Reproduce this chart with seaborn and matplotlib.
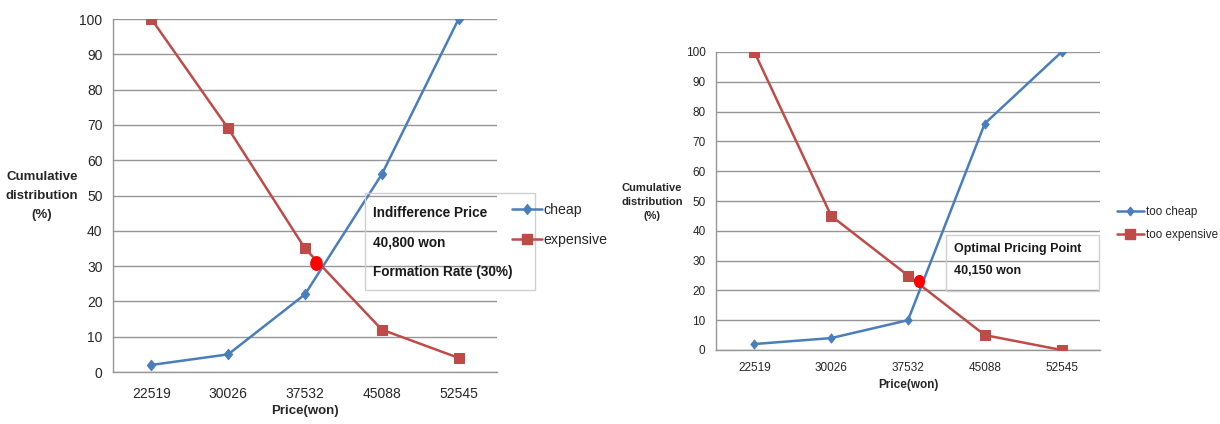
import matplotlib
matplotlib.use("Agg")
import matplotlib.pyplot as plt
import seaborn as sns
import pandas as pd
import numpy as np
from matplotlib.lines import Line2D
from matplotlib.path import Path
from matplotlib.transforms import Affine2D

# ---- data ----
prices = ["22519", "30026", "37532", "45088", "52545"]
left_cheap = [2, 5, 22, 56, 100]
left_expensive = [100, 69, 35, 12, 4]
left_point_x = [2.14]
left_point_y = [31]
right_too_cheap = [2, 4, 10, 76, 100]
right_too_expensive = [100, 45, 25, 5, 0]
right_point_x = [2.14]
right_point_y = [23]
y_ticks = [0, 10, 20, 30, 40, 50, 60, 70, 80, 90, 100]

sns.set_theme(style="white")
FAM = ["Liberation Sans", "DejaVu Sans"]
plt.rcParams["font.family"] = FAM

BLUE = "#4a7ebb"
RED = "#be4b48"
GRID = "#969696"
TXT = "#262626"

W, H = 1220, 424
fig = plt.figure(figsize=(W / 100, H / 100), dpi=100)

ELLIPSE = Path.unit_circle().transformed(Affine2D().scale(0.85, 1.0))
DIAMOND = Path.unit_regular_polygon(4).transformed(Affine2D().scale(0.8, 1.0))


def fx(px):
    return px / W


def fy(py):
    return 1 - py / H


def draw(ax, s1, s2, names, px, py, fs_tick, fs_lab, ms, dot_s, xpad, lpad):
    idx = np.arange(len(prices))
    df = pd.DataFrame({"x": np.concatenate([idx, idx]),
                       "y": s1 + s2,
                       "series": [names[0]] * len(s1) + [names[1]] * len(s2)})
    sns.lineplot(data=df[df.series == names[0]], x="x", y="y", ax=ax, color=BLUE,
                 marker=DIAMOND, markersize=ms * 1.0, markeredgecolor=BLUE,
                 linewidth=1.8, legend=False, zorder=3)
    sns.lineplot(data=df[df.series == names[1]], x="x", y="y", ax=ax, color=RED,
                 marker="s", markersize=ms, markeredgecolor=RED,
                 linewidth=1.8, legend=False, zorder=3)
    sns.scatterplot(x=px, y=py, ax=ax, color="#ff0000", s=dot_s, marker=ELLIPSE,
                    edgecolor="#ff0000", linewidth=0, zorder=4, legend=False)
    ax.set_xlim(-0.5, 4.5)
    ax.set_ylim(0, 100)
    ax.set_yticks(y_ticks)
    ax.set_yticklabels([str(v) for v in y_ticks], fontsize=fs_tick, color=TXT)
    ax.set_xticks(idx)
    ax.set_xticklabels(prices, fontsize=fs_tick, color=TXT)
    ax.set_xticks(np.arange(-0.5, 5, 1), minor=True)
    ax.tick_params(axis="x", which="major", length=0, pad=xpad)
    ax.tick_params(axis="x", which="minor", length=4, color=GRID, width=1, direction="out")
    ax.tick_params(axis="y", which="major", length=3.5, color=GRID, width=1,
                   direction="out", pad=4)
    ax.yaxis.grid(True, color=GRID, linewidth=1)
    ax.set_axisbelow(True)
    for sp in ["top", "right"]:
        ax.spines[sp].set_visible(False)
    for sp in ["left", "bottom"]:
        ax.spines[sp].set_color(GRID)
        ax.spines[sp].set_linewidth(1)
    ax.set_ylabel("")
    ax.set_xlabel("Price(won)", fontsize=fs_lab, fontweight="bold", labelpad=lpad, color=TXT)
    ax.set_facecolor("white")


# ---------------- Left chart ----------------
axL = fig.add_axes([fx(113), fy(372), fx(497 - 113), (372 - 19) / H])
draw(axL, left_cheap, left_expensive, ["cheap", "expensive"], left_point_x, left_point_y,
     fs_tick=10, fs_lab=9.5, ms=7.5, dot_s=115, xpad=11, lpad=3)
fig.text(fx(42), fy(196), "Cumulative\ndistribution\n(%)", ha="center", va="center",
         fontsize=9.5, fontweight="bold", linespacing=1.75, color=TXT)
boxL = plt.Rectangle((fx(365), fy(290)), fx(535 - 365), (290 - 193) / H,
                     transform=fig.transFigure, fill=False, edgecolor="#cfcfcf",
                     linewidth=1, zorder=5)
fig.add_artist(boxL)
for txt, yy in [("Indifference Price", 213), ("40,800 won", 243), ("Formation Rate (30%)", 272)]:
    fig.text(fx(373), fy(yy), txt, ha="left", va="center", fontsize=9.8,
             fontweight="bold", color="#1a1a1a")
handlesL = [Line2D([], [], color=BLUE, marker=DIAMOND, markersize=7, linewidth=1.8),
            Line2D([], [], color=RED, marker="s", markersize=7, linewidth=1.8)]
fig.legend(handlesL, ["cheap", "expensive"], loc="center left",
           bbox_to_anchor=(fx(512), fy(225)), frameon=False, fontsize=10.2,
           handlelength=2.1, handletextpad=0.1, labelspacing=1.1, borderaxespad=0,
           borderpad=0, labelcolor=TXT)

# ---------------- Right chart ----------------
axR = fig.add_axes([fx(716), fy(350), fx(1100 - 716), (350 - 52) / H])
draw(axR, right_too_cheap, right_too_expensive, ["too cheap", "too expensive"],
     right_point_x, right_point_y, fs_tick=8.5, fs_lab=8.5, ms=6.5, dot_s=90,
     xpad=8.5, lpad=4)
fig.text(fx(652), fy(202), "Cumulative\ndistribution\n(%)", ha="center", va="center",
         fontsize=8, fontweight="bold", linespacing=1.55, color=TXT)
boxR = plt.Rectangle((fx(946), fy(291)), fx(1099 - 946), (291 - 235) / H,
                     transform=fig.transFigure, fill=False, edgecolor="#cfcfcf",
                     linewidth=1, zorder=5)
fig.add_artist(boxR)
for txt, yy in [("Optimal Pricing Point", 249), ("40,150 won", 271)]:
    fig.text(fx(954), fy(yy), txt, ha="left", va="center", fontsize=9,
             fontweight="bold", color="#1a1a1a")
handlesR = [Line2D([], [], color=BLUE, marker=DIAMOND, markersize=6, linewidth=1.8),
            Line2D([], [], color=RED, marker="s", markersize=6.5, linewidth=1.8)]
fig.legend(handlesR, ["too cheap", "too expensive"], loc="center left",
           bbox_to_anchor=(fx(1117), fy(223.5)), frameon=False, fontsize=8.4,
           handlelength=2.3, handletextpad=0.15, labelspacing=0.9, borderaxespad=0,
           borderpad=0, labelcolor=TXT)

fig.savefig("out.png", dpi=100, facecolor="white")
